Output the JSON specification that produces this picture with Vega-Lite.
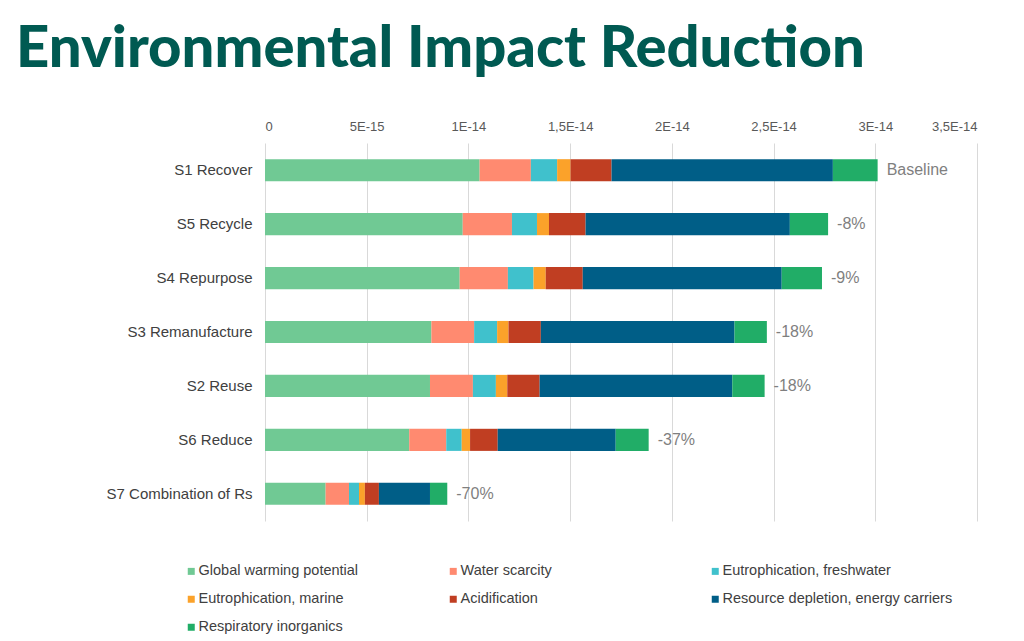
{
  "$schema": "https://vega.github.io/schema/vega-lite/v6.json",
  "autosize": "none",
  "width": 712,
  "height": 378,
  "padding": {"left": 265, "top": 143, "right": 47, "bottom": 120},
  "background": "white",
  "config": {"view": {"stroke": null}},
  "title": {
    "text": "Environmental Impact Reduction",
    "anchor": "start",
    "frame": "group",
    "dx": -249,
    "offset": 41,
    "font": "Lato",
    "fontWeight": 900,
    "fontSize": 58,
    "color": "#005A52"
  },
  "data": {
    "values": [
      {"scenario": "S1 Recover", "reduction": "Baseline", "category": "Global warming potential", "value": 1.055e-14},
      {"scenario": "S1 Recover", "reduction": "Baseline", "category": "Water scarcity", "value": 0.252e-14},
      {"scenario": "S1 Recover", "reduction": "Baseline", "category": "Eutrophication, freshwater", "value": 0.129e-14},
      {"scenario": "S1 Recover", "reduction": "Baseline", "category": "Eutrophication, marine", "value": 0.066e-14},
      {"scenario": "S1 Recover", "reduction": "Baseline", "category": "Acidification", "value": 0.2015e-14},
      {"scenario": "S1 Recover", "reduction": "Baseline", "category": "Resource depletion, energy carriers", "value": 1.088e-14},
      {"scenario": "S1 Recover", "reduction": "Baseline", "category": "Respiratory inorganics", "value": 0.220e-14},

      {"scenario": "S5 Recycle", "reduction": "-8%", "category": "Global warming potential", "value": 0.972e-14},
      {"scenario": "S5 Recycle", "reduction": "-8%", "category": "Water scarcity", "value": 0.242e-14},
      {"scenario": "S5 Recycle", "reduction": "-8%", "category": "Eutrophication, freshwater", "value": 0.123e-14},
      {"scenario": "S5 Recycle", "reduction": "-8%", "category": "Eutrophication, marine", "value": 0.059e-14},
      {"scenario": "S5 Recycle", "reduction": "-8%", "category": "Acidification", "value": 0.180e-14},
      {"scenario": "S5 Recycle", "reduction": "-8%", "category": "Resource depletion, energy carriers", "value": 1.004e-14},
      {"scenario": "S5 Recycle", "reduction": "-8%", "category": "Respiratory inorganics", "value": 0.188e-14},

      {"scenario": "S4 Repurpose", "reduction": "-9%", "category": "Global warming potential", "value": 0.957e-14},
      {"scenario": "S4 Repurpose", "reduction": "-9%", "category": "Water scarcity", "value": 0.237e-14},
      {"scenario": "S4 Repurpose", "reduction": "-9%", "category": "Eutrophication, freshwater", "value": 0.126e-14},
      {"scenario": "S4 Repurpose", "reduction": "-9%", "category": "Eutrophication, marine", "value": 0.060e-14},
      {"scenario": "S4 Repurpose", "reduction": "-9%", "category": "Acidification", "value": 0.182e-14},
      {"scenario": "S4 Repurpose", "reduction": "-9%", "category": "Resource depletion, energy carriers", "value": 0.978e-14},
      {"scenario": "S4 Repurpose", "reduction": "-9%", "category": "Respiratory inorganics", "value": 0.198e-14},

      {"scenario": "S3 Remanufacture", "reduction": "-18%", "category": "Global warming potential", "value": 0.818e-14},
      {"scenario": "S3 Remanufacture", "reduction": "-18%", "category": "Water scarcity", "value": 0.210e-14},
      {"scenario": "S3 Remanufacture", "reduction": "-18%", "category": "Eutrophication, freshwater", "value": 0.113e-14},
      {"scenario": "S3 Remanufacture", "reduction": "-18%", "category": "Eutrophication, marine", "value": 0.056e-14},
      {"scenario": "S3 Remanufacture", "reduction": "-18%", "category": "Acidification", "value": 0.159e-14},
      {"scenario": "S3 Remanufacture", "reduction": "-18%", "category": "Resource depletion, energy carriers", "value": 0.952e-14},
      {"scenario": "S3 Remanufacture", "reduction": "-18%", "category": "Respiratory inorganics", "value": 0.159e-14},

      {"scenario": "S2 Reuse", "reduction": "-18%", "category": "Global warming potential", "value": 0.811e-14},
      {"scenario": "S2 Reuse", "reduction": "-18%", "category": "Water scarcity", "value": 0.211e-14},
      {"scenario": "S2 Reuse", "reduction": "-18%", "category": "Eutrophication, freshwater", "value": 0.113e-14},
      {"scenario": "S2 Reuse", "reduction": "-18%", "category": "Eutrophication, marine", "value": 0.056e-14},
      {"scenario": "S2 Reuse", "reduction": "-18%", "category": "Acidification", "value": 0.159e-14},
      {"scenario": "S2 Reuse", "reduction": "-18%", "category": "Resource depletion, energy carriers", "value": 0.947e-14},
      {"scenario": "S2 Reuse", "reduction": "-18%", "category": "Respiratory inorganics", "value": 0.159e-14},

      {"scenario": "S6 Reduce", "reduction": "-37%", "category": "Global warming potential", "value": 0.709e-14},
      {"scenario": "S6 Reduce", "reduction": "-37%", "category": "Water scarcity", "value": 0.182e-14},
      {"scenario": "S6 Reduce", "reduction": "-37%", "category": "Eutrophication, freshwater", "value": 0.076e-14},
      {"scenario": "S6 Reduce", "reduction": "-37%", "category": "Eutrophication, marine", "value": 0.041e-14},
      {"scenario": "S6 Reduce", "reduction": "-37%", "category": "Acidification", "value": 0.136e-14},
      {"scenario": "S6 Reduce", "reduction": "-37%", "category": "Resource depletion, energy carriers", "value": 0.580e-14},
      {"scenario": "S6 Reduce", "reduction": "-37%", "category": "Respiratory inorganics", "value": 0.162e-14},

      {"scenario": "S7 Combination of Rs", "reduction": "-70%", "category": "Global warming potential", "value": 0.298e-14},
      {"scenario": "S7 Combination of Rs", "reduction": "-70%", "category": "Water scarcity", "value": 0.115e-14},
      {"scenario": "S7 Combination of Rs", "reduction": "-70%", "category": "Eutrophication, freshwater", "value": 0.049e-14},
      {"scenario": "S7 Combination of Rs", "reduction": "-70%", "category": "Eutrophication, marine", "value": 0.029e-14},
      {"scenario": "S7 Combination of Rs", "reduction": "-70%", "category": "Acidification", "value": 0.069e-14},
      {"scenario": "S7 Combination of Rs", "reduction": "-70%", "category": "Resource depletion, energy carriers", "value": 0.251e-14},
      {"scenario": "S7 Combination of Rs", "reduction": "-70%", "category": "Respiratory inorganics", "value": 0.085e-14}
    ]
  },
  "encoding": {
    "y": {
      "field": "scenario",
      "type": "nominal",
      "sort": ["S1 Recover", "S5 Recycle", "S4 Repurpose", "S3 Remanufacture", "S2 Reuse", "S6 Reduce", "S7 Combination of Rs"],
      "scale": {"paddingInner": 0.59, "paddingOuter": 0.3},
      "axis": {
        "title": null,
        "domain": false,
        "ticks": false,
        "labelPadding": 13,
        "labelFont": "Liberation Sans",
        "labelFontSize": 15,
        "labelColor": "#404040"
      }
    }
  },
  "layer": [
    {
      "transform": [
        {"calculate": "indexof(['Global warming potential', 'Water scarcity', 'Eutrophication, freshwater', 'Eutrophication, marine', 'Acidification', 'Resource depletion, energy carriers', 'Respiratory inorganics'], datum.category)", "as": "k"}
      ],
      "mark": {"type": "bar"},
      "encoding": {
        "x": {
          "field": "value",
          "type": "quantitative",
          "stack": "zero",
          "scale": {"domain": [0, 3.5e-14], "nice": false},
          "axis": {
            "orient": "top",
            "title": null,
            "values": [0, 5e-15, 1e-14, 1.5e-14, 2e-14, 2.5e-14, 3e-14, 3.5e-14],
            "labelExpr": "datum.value == 0 ? '0' : replace(upper(format(datum.value, '.1~e')), '.', ',')",
            "domain": false,
            "ticks": false,
            "grid": true,
            "gridColor": "#d9d9d9",
            "gridWidth": 1,
            "labelFont": "Liberation Sans",
            "labelFontSize": 13,
            "labelColor": "#595959",
            "labelPadding": 10
          }
        },
        "order": {"field": "k", "type": "quantitative", "sort": "ascending"},
        "color": {
          "field": "category",
          "type": "nominal",
          "sort": ["Global warming potential", "Water scarcity", "Eutrophication, freshwater", "Eutrophication, marine", "Acidification", "Resource depletion, energy carriers", "Respiratory inorganics"],
          "scale": {
            "domain": ["Global warming potential", "Water scarcity", "Eutrophication, freshwater", "Eutrophication, marine", "Acidification", "Resource depletion, energy carriers", "Respiratory inorganics"],
            "range": ["#70C994", "#FF8A70", "#40C1CC", "#FBA22A", "#C03E22", "#005E87", "#21AD67"]
          },
          "legend": {
            "title": null,
            "orient": "none",
            "legendX": -81,
            "legendY": 421,
            "direction": "horizontal",
            "columns": 3,
            "gridAlign": "all",
            "columnPadding": 17,
            "rowPadding": 13,
            "symbolType": "square",
            "symbolSize": 49,
            "symbolStrokeWidth": 0,
            "labelFont": "Liberation Sans",
            "labelFontSize": 14.5,
            "labelColor": "#404040",
            "labelOffset": 0,
            "labelLimit": 300
          }
        }
      }
    },
    {
      "transform": [
        {"aggregate": [{"op": "sum", "field": "value", "as": "total"}], "groupby": ["scenario", "reduction"]}
      ],
      "mark": {"type": "text", "align": "left", "baseline": "middle", "dx": 9, "font": "Liberation Sans", "fontSize": 16, "color": "#7f7f7f"},
      "encoding": {
        "x": {"field": "total", "type": "quantitative"},
        "text": {"field": "reduction"}
      }
    }
  ]
}
